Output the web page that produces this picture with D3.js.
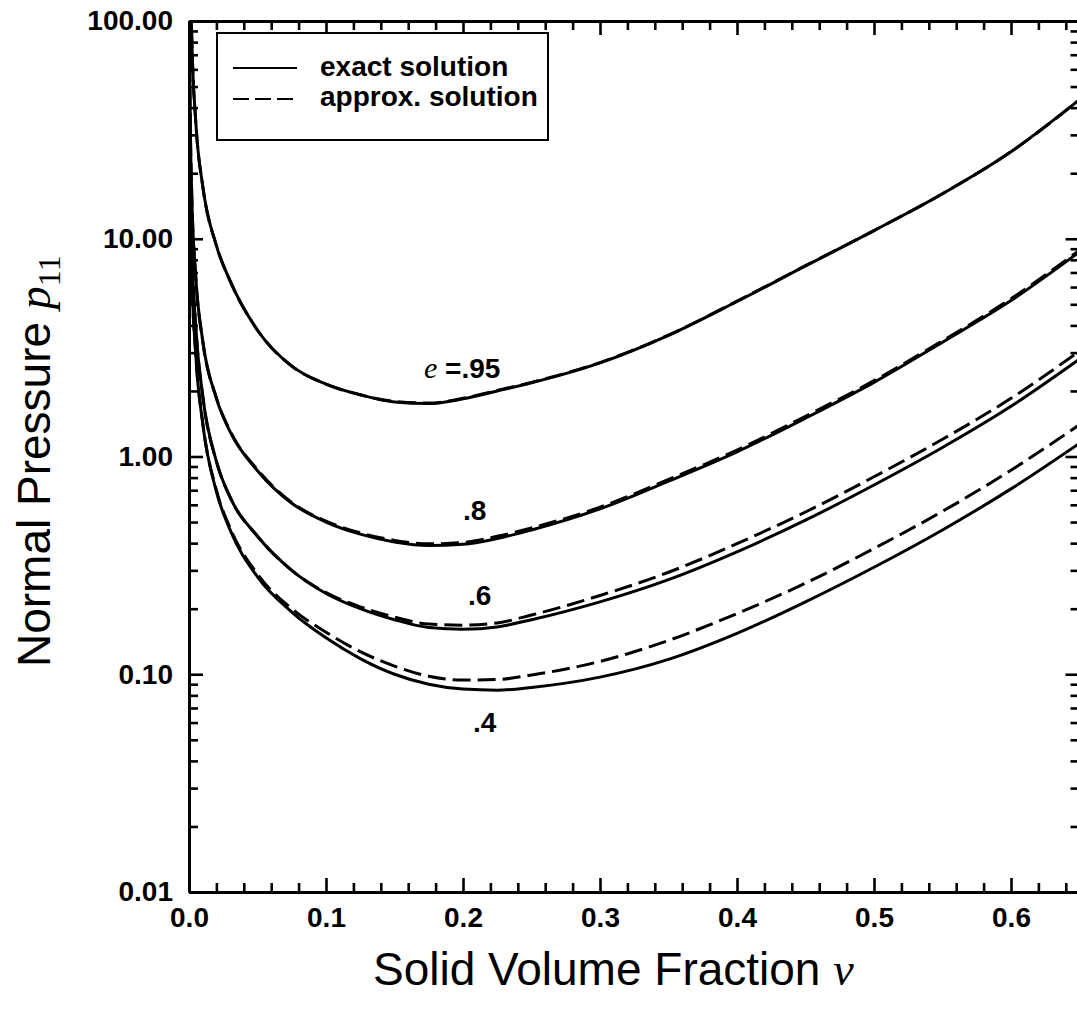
<!DOCTYPE html>
<html><head><meta charset="utf-8">
<script src="https://cdn.jsdelivr.net/npm/d3@7/dist/d3.min.js"></script>
<style>
body{margin:0;background:#fff}
text{font-family:"Liberation Sans",Arial,sans-serif}
</style>
</head><body>
<svg id="chart" width="1077" height="1016"></svg>
<script>
// ---- data ----
const nu = [0.0005,0.001,0.002,0.005,0.01,0.02,0.03,0.05,0.075,0.1,0.125,0.15,0.175,0.2,0.225,0.25,0.3,0.35,0.4,0.45,0.5,0.55,0.6,0.65];
const exact95  = [340,170,85,34,17.5,9.3,6.4,3.8,2.6,2.15,1.92,1.78,1.75,1.84,2.0,2.18,2.69,3.6,5.15,7.5,10.9,16.1,25.1,43.5];
const approx95 = [340,170,85,34,17.5,9.3,6.4,3.8,2.6,2.15,1.92,1.79,1.76,1.85,2.01,2.19,2.7,3.61,5.17,7.52,10.9,16.1,25.1,43.5];
const exact80  = [64,32,16,6.6,3.4,1.85,1.3,0.86,0.61,0.5,0.44,0.405,0.39,0.395,0.42,0.46,0.575,0.77,1.05,1.5,2.19,3.35,5.2,8.7];
const approx80 = [64,32,16,6.6,3.4,1.86,1.31,0.87,0.615,0.505,0.446,0.412,0.397,0.403,0.43,0.47,0.585,0.785,1.07,1.53,2.23,3.4,5.3,8.85];
const exact60  = [38,19,9.5,3.9,1.9,0.95,0.65,0.43,0.3,0.235,0.2,0.178,0.164,0.161,0.165,0.178,0.215,0.272,0.365,0.51,0.74,1.1,1.7,2.8];
const approx60 = [38,19,9.5,3.9,1.9,0.95,0.65,0.43,0.3,0.237,0.204,0.183,0.17,0.168,0.172,0.187,0.23,0.294,0.398,0.556,0.807,1.2,1.85,3.05];
const exact40  = [29,14.4,7.2,2.9,1.42,0.69,0.46,0.28,0.193,0.147,0.118,0.1,0.09,0.0855,0.0845,0.087,0.097,0.117,0.154,0.215,0.31,0.46,0.71,1.15];
const approx40 = [29,14.4,7.2,2.9,1.43,0.7,0.47,0.288,0.2,0.156,0.127,0.109,0.098,0.094,0.0946,0.0992,0.1145,0.143,0.19,0.262,0.378,0.56,0.865,1.4];

const xMajorTicks = [0,0.1,0.2,0.3,0.4,0.5,0.6];
const xTickLabels = ["0.0","0.1","0.2","0.3","0.4","0.5","0.6"];
const yMajorTicks = [0.01,0.1,1,10,100];
const yTickLabels = ["0.01","0.10","1.00","10.00","100.00"];
const legendLabels = ["exact solution","approx. solution"];
const curveLabelValues = [".95",".8",".6",".4"];

// ---- layout ----
const L = 189, R = 1079.5, T = 21, B = 892;
const svg = d3.select("#chart");
svg.append("rect").attr("width",1077).attr("height",1016).attr("fill","#fff");

const x = d3.scaleLinear().domain([0,0.65]).range([L,R]);
const y = d3.scaleLog().domain([0.01,100]).range([B,T]);

const xMinor = d3.range(0,0.651,0.02).map(v=>+v.toFixed(2)).filter(v=>Math.abs(v*10-Math.round(v*10))>1e-6);
const yMinor = [];
[0.01,0.1,1,10].forEach(d=>{for(let k=2;k<=9;k++) yMinor.push(k*d);});

svg.append("clipPath").attr("id","plotclip").append("rect")
  .attr("x",L).attr("y",T).attr("width",R-L).attr("height",B-T);

// ---- curves ----
const line = d3.line().x(d=>x(d[0])).y(d=>y(d[1])).curve(d3.curveMonotoneX);
const series = [
  {v:exact95, dash:null},{v:exact80, dash:null},{v:exact60, dash:null},{v:exact40, dash:null},
  {v:approx95, dash:"18,7"},{v:approx80, dash:"18,7"},{v:approx60, dash:"18,7"},{v:approx40, dash:"18,7"}
];
const g = svg.append("g").attr("clip-path","url(#plotclip)");
series.forEach(s=>{
  g.append("path").datum(nu.map((n,i)=>[n,s.v[i]]))
   .attr("d",line).attr("fill","none").attr("stroke","#000")
   .attr("stroke-width",3).attr("stroke-dasharray",s.dash);
});

// ---- axes ----
function style(sel){
  sel.select(".domain").attr("stroke","#000").attr("stroke-width",3);
  sel.selectAll(".tick line").attr("stroke","#000").attr("stroke-width",2.6);
  sel.selectAll(".tick text").attr("fill","#000")
     .style("font-family","'Liberation Sans',Arial,sans-serif")
     .style("font-weight","bold").style("font-size","28px");
}
// bottom
svg.append("g").attr("transform",`translate(0,${B})`)
  .call(d3.axisBottom(x).tickValues(xMajorTicks).tickSize(-14).tickSizeOuter(0).tickPadding(15)
        .tickFormat((d,i)=>xTickLabels[i])).call(style);
svg.append("g").attr("transform",`translate(0,${B})`)
  .call(d3.axisBottom(x).tickValues(xMinor).tickSize(-9).tickSizeOuter(0).tickFormat(""))
  .call(s=>{s.select(".domain").remove(); style(s);});
// top
svg.append("g").attr("transform",`translate(0,${T})`)
  .call(d3.axisTop(x).tickValues(xMajorTicks).tickSize(-14).tickSizeOuter(0).tickFormat("")).call(style);
svg.append("g").attr("transform",`translate(0,${T})`)
  .call(d3.axisTop(x).tickValues(xMinor).tickSize(-9).tickSizeOuter(0).tickFormat(""))
  .call(s=>{s.select(".domain").remove(); style(s);});
// left
svg.append("g").attr("transform",`translate(${L},0)`)
  .call(d3.axisLeft(y).tickValues(yMajorTicks).tickSize(-14).tickSizeOuter(0).tickPadding(16)
        .tickFormat((d,i)=>yTickLabels[i])).call(style);
svg.append("g").attr("transform",`translate(${L},0)`)
  .call(d3.axisLeft(y).tickValues(yMinor).tickSize(-9).tickSizeOuter(0).tickFormat(""))
  .call(s=>{s.select(".domain").remove(); style(s);});
// right
svg.append("g").attr("transform",`translate(${R},0)`)
  .call(d3.axisRight(y).tickValues(yMajorTicks).tickSize(-14).tickSizeOuter(0).tickFormat("")).call(style);
svg.append("g").attr("transform",`translate(${R},0)`)
  .call(d3.axisRight(y).tickValues(yMinor).tickSize(-9).tickSizeOuter(0).tickFormat(""))
  .call(s=>{s.select(".domain").remove(); style(s);});

// ---- axis titles ----
const xt = svg.append("text").attr("x",373).attr("y",985)
  .style("font-size","46px").attr("fill","#000");
xt.append("tspan").text("Solid Volume Fraction ");
xt.append("tspan").text("\u03BD").style("font-family","'Liberation Serif','Times New Roman',serif")
  .style("font-style","italic");

const yt = svg.append("text").attr("transform","translate(50,667) rotate(-90)")
  .style("font-size","46px").attr("fill","#000");
yt.append("tspan").text("Normal Pressure ");
yt.append("tspan").text("p").style("font-family","'Liberation Serif','Times New Roman',serif")
  .style("font-style","italic");
yt.append("tspan").text("11").attr("dy",10).style("font-size","32px")
  .style("font-family","'Liberation Serif','Times New Roman',serif");

// ---- legend ----
svg.append("rect").attr("x",217).attr("y",33).attr("width",331).attr("height",107)
  .attr("fill","#fff").attr("stroke","#000").attr("stroke-width",2);
[[68,null,76],[99,"16,6",106]].forEach((r,i)=>{
  svg.append("line").attr("x1",233).attr("x2",297).attr("y1",r[0]).attr("y2",r[0])
    .attr("stroke","#000").attr("stroke-width",2).attr("stroke-dasharray",r[1]);
  svg.append("text").attr("x",320).attr("y",r[2]).text(legendLabels[i])
    .style("font-weight","bold").style("font-size","28px").attr("fill","#000");
});

// ---- curve labels ----
const lab = [[424,378],[463,520],[468,605],[473,732]];
lab.forEach((p,i)=>{
  const t = svg.append("text").attr("x",p[0]).attr("y",p[1]).attr("fill","#000")
    .style("font-weight","bold").style("font-size","28px");
  if(i===0){
    t.append("tspan").text("e").style("font-family","'Liberation Serif','Times New Roman',serif")
      .style("font-style","italic").style("font-weight","normal").style("font-size","30px");
    t.append("tspan").text(" =" + curveLabelValues[i]);
  } else {
    t.append("tspan").text(curveLabelValues[i]);
  }
});
</script>
</body></html>
